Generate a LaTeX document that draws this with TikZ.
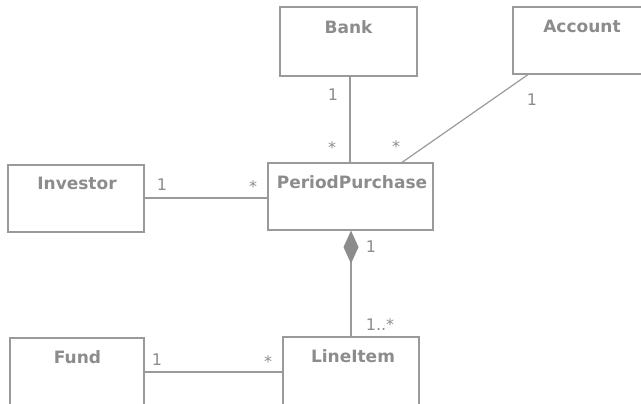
\documentclass[tikz,border=0pt]{standalone}
\usepackage{fontspec}
\setmainfont{DejaVu Sans}
\usetikzlibrary{calc}
\definecolor{ink}{HTML}{8C8C8C}
\definecolor{edge}{HTML}{9A9A9A}
\begin{document}
\begin{tikzpicture}[x=1pt,y=-1pt,
  classbox/.style={draw=edge,line width=1.2pt,rectangle,inner sep=0pt},
  cname/.style={text=ink,font=\bfseries\fontsize{17}{17}\selectfont,anchor=center,inner sep=0pt},
  mult/.style={text=ink,font=\fontsize{16}{16}\selectfont,inner sep=0pt},
  assoc/.style={draw=edge,line width=1.2pt}]
\useasboundingbox (0,0) rectangle (641,404);
% classes
\node[classbox,minimum width=137pt,minimum height=69pt] (bank) at (348.5,41.5) {};
\node[cname] at (348.5,27) {Bank};
\node[classbox,minimum width=140pt,minimum height=67pt] (account) at (583,40.5) {};
\node[cname] at (582,26) {Account};
\node[classbox,minimum width=136pt,minimum height=67pt] (investor) at (76,198.5) {};
\node[cname] at (77,183) {Investor};
\node[classbox,minimum width=165pt,minimum height=67pt] (pp) at (350.5,196.5) {};
\node[cname] at (352,182) {PeriodPurchase};
\node[classbox,minimum width=134pt,minimum height=80pt] (fund) at (77,378) {};
\node[cname] at (77.5,357) {Fund};
\node[classbox,minimum width=136pt,minimum height=80pt] (lineitem) at (351,377) {};
\node[cname] at (353,356) {LineItem};
% associations
\draw[assoc] (bank.south -| 350,0) -- (pp.north -| 350,0);
\draw[assoc] (account.south -| 528,0) -- (pp.north -| 402,0);
\draw[assoc] (investor.east |- 0,198) -- (pp.west |- 0,198);
\draw[assoc] (fund.east |- 0,372) -- (lineitem.west |- 0,372);
% composition
\coordinate (dtop) at (pp.south -| 351,0);
\draw[assoc] (dtop) ++(0,28) -- (lineitem.north -| 351,0);
\fill[ink] (dtop) -- ++(7.5,16.5) -- ++(-7.5,16.5) -- ++(-7.5,-16.5) -- cycle;
% multiplicities
\node[mult] at (333,95) {1};
\node[mult] at (332,148) {*};
\node[mult] at (396,147) {*};
\node[mult] at (532,100) {1};
\node[mult] at (162,185) {1};
\node[mult] at (253,187) {*};
\node[mult] at (371,247) {1};
\node[mult] at (380,325) {1..*};
\node[mult] at (157,360) {1};
\node[mult] at (268,362) {*};
\end{tikzpicture}
\end{document}
